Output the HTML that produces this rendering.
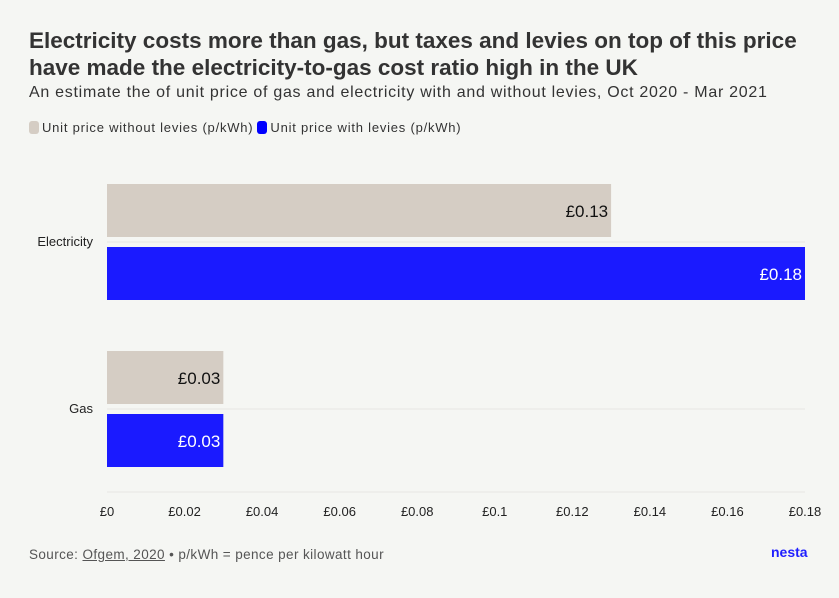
<!DOCTYPE html>
<html><head><meta charset="utf-8"><style>
body{margin:0;background:#f5f6f3;font-family:"Liberation Sans",sans-serif;width:839px;height:598px;overflow:hidden;position:relative;color:#222}
#title{position:absolute;left:29px;top:27px;font-size:22.5px;font-weight:bold;line-height:27px;color:#333;letter-spacing:0px;white-space:nowrap}
#sub{position:absolute;left:29px;top:84px;font-size:16px;color:#333;letter-spacing:0.72px;white-space:nowrap}
#legend{position:absolute;left:29px;top:120px;font-size:13px;color:#333;display:flex;align-items:center;letter-spacing:0.78px;white-space:nowrap}
.sw{display:inline-block;width:10px;height:13px;border-radius:3px;margin-right:3px}
#foot{position:absolute;left:29px;top:547px;font-size:13.5px;color:#555;letter-spacing:0.4px}
#logo{position:absolute;left:771px;top:544px;font-size:14px;font-weight:bold;color:#1f1fff}
svg{position:absolute;left:0;top:0}
</style></head><body>
<div id="title">Electricity costs more than gas, but taxes and levies on top of this price<br>have made the electricity-to-gas cost ratio high in the UK</div>
<div id="sub">An estimate the of unit price of gas and electricity with and without levies, Oct 2020 - Mar 2021</div>
<div id="legend">
<span style="display:flex;align-items:center;margin-right:4px"><span class="sw" style="background:#d5cdc4"></span>Unit price without levies (p/kWh)</span>
<span style="display:flex;align-items:center"><span class="sw" style="background:#0000ff"></span>Unit price with levies (p/kWh)</span>
</div>
<svg id="chart" width="839" height="598"></svg>
<div id="foot">Source: <u>Ofgem, 2020</u> • p/kWh = pence per kilowatt hour</div>
<div id="logo">nesta</div>
<script>
const categories=["Electricity","Gas"];
const withoutLevies=[0.13,0.03];
const withLevies=[0.18,0.03];
const ticks=[0,0.02,0.04,0.06,0.08,0.1,0.12,0.14,0.16,0.18];
const tickLabels=["£0","£0.02","£0.04","£0.06","£0.08","£0.1","£0.12","£0.14","£0.16","£0.18"];
const svg=document.getElementById('chart');
const NS='http://www.w3.org/2000/svg';
const x0=107,x1=805,xmax=0.18;
const x=v=>x0+(v/xmax)*(x1-x0);
const catCenter=i=>242+i*167;
function mk(t,a){const e=document.createElementNS(NS,t);for(const k in a)e.setAttribute(k,a[k]);svg.appendChild(e);return e;}
categories.forEach((c,i)=>{
 const g=mk('line',{x1:x0,x2:x1,y1:catCenter(i),y2:catCenter(i),stroke:'#e6e6e3','stroke-width':1});
 
 
});
const base=mk('line',{x1:x0,x2:x1,y1:492,y2:492,stroke:'#e6e6e3','stroke-width':1});


ticks.forEach((t,i)=>{
 const tx=mk('text',{x:x(t),y:516,'text-anchor':'middle','font-size':13,fill:'#222'});
 tx.textContent=tickLabels[i];
 
 
});
categories.forEach((c,i)=>{
 const cy=catCenter(i);
 const lab=mk('text',{x:93,y:cy+4,'text-anchor':'end','font-size':13,fill:'#222'});
 lab.textContent=c;
 
 
 const b1=mk('rect',{x:x0,y:cy-58,width:x(withoutLevies[i])-x0,height:53,fill:'#d5cdc4'});
 
 
 const t1=mk('text',{x:x(withoutLevies[i])-3,y:cy-25,'text-anchor':'end','font-size':17,fill:'#111'});
 t1.textContent='£'+withoutLevies[i].toFixed(2);
 
 
 const b2=mk('rect',{x:x0,y:cy+5,width:x(withLevies[i])-x0,height:53,fill:'#1a1aff'});
 
 
 const t2=mk('text',{x:x(withLevies[i])-3,y:cy+38,'text-anchor':'end','font-size':17,fill:'#fff'});
 t2.textContent='£'+withLevies[i].toFixed(2);
 
 
});
</script>
</body></html>
